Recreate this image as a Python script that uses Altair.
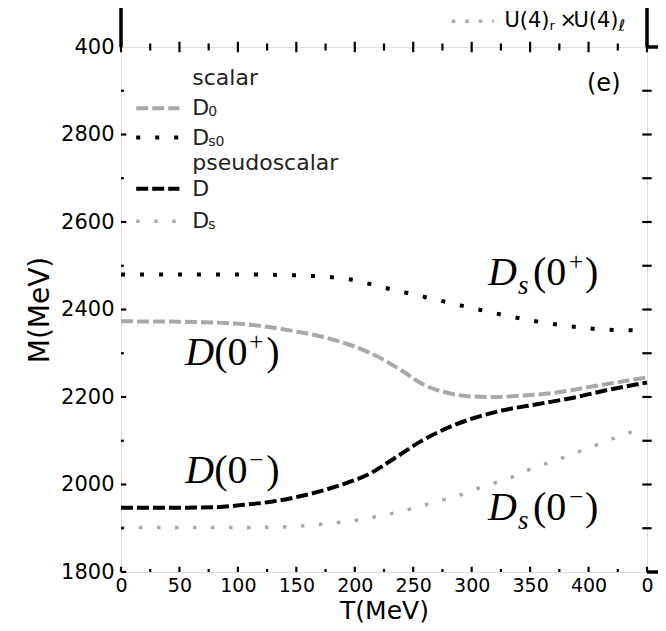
import altair as alt
import pandas as pd

# ---------------- data ----------------
T_Ds0 = [0, 50, 100, 150, 195, 225, 256, 288, 319, 351, 383, 415, 450]
M_Ds0 = [2480, 2480, 2480, 2478, 2469, 2450, 2431, 2411, 2392, 2375, 2362, 2354, 2352]

T_D0 = [0, 50, 97, 121, 149, 173, 195, 219, 241, 259, 280, 302, 320, 342, 372, 403, 450]
M_D0 = [2373, 2372, 2368, 2362, 2350, 2337, 2320, 2293, 2259, 2228, 2209, 2201, 2200, 2203, 2210, 2224, 2245]

T_D = [0, 50, 81, 103, 127, 158, 188, 213, 234, 256, 274, 302, 326, 357, 388, 418, 450]
M_D = [1947, 1947, 1948, 1953, 1960, 1976, 1999, 2025, 2060, 2098, 2123, 2152, 2169, 2184, 2199, 2217, 2233]

T_Ds = [0, 60, 121, 147, 162, 178, 195, 210, 225, 242, 257, 273, 288, 303, 319, 334, 348, 363, 379, 394, 409, 424, 440]
M_Ds = [1902, 1902, 1902, 1904, 1907, 1911, 1916, 1922, 1930, 1940, 1951, 1963, 1974, 1989, 2003, 2016, 2033, 2047, 2062, 2077, 2093, 2108, 2123]

x_major = [0, 50, 100, 150, 200, 250, 300, 350, 400, 450]
x_minor = [25, 75, 125, 175, 225, 275, 325, 375, 425]
y_major = [1800, 2000, 2200, 2400, 2600, 2800, 3000]
y_minor = [1900, 2100, 2300, 2500, 2700, 2900]

# legend entries
leg_headers = ["scalar", "pseudoscalar"]
leg_header_M = [2929, 2734]
leg_names = ["D0", "Ds0", "D", "Ds"]
leg_main = ["D", "D", "D", "D"]
leg_sub = ["0", "s0", "", "s"]
leg_M = [2860, 2793, 2676, 2602]

# curve annotations
ann_D_sign = ["+", "\u2212"]
ann_D_T = [55, 55]
ann_D_M = [2274, 2003]
ann_Ds_sign = ["+", "\u2212"]
ann_Ds_T = [314, 314]
ann_Ds_M = [2457, 1918]

# ---------------- scales / axes ----------------
W, H = 526, 525
XS = alt.Scale(domain=[0, 450], nice=False, zero=False)
YS = alt.Scale(domain=[1800, 3000], nice=False, zero=False)
AXF = "DejaVu Sans"
xaxis = alt.Axis(values=x_major, format="d",
                 labelExpr="datum.value == 450 ? '0' : datum.label",
                 title="T(MeV)", ticks=False, domain=False, grid=False,
                 labelFont=AXF, labelFontSize=19, labelColor="black", labelPadding=4,
                 labelFlush=False, labelOverlap=False,
                 titleFont=AXF, titleFontSize=25, titleFontWeight="normal", titleColor="black",
                 titleX=W / 2, titleY=46, titleBaseline="alphabetic", titleAlign="center")
yaxis = alt.Axis(values=y_major, format="d",
                 labelExpr="datum.value == 3000 ? '400' : datum.label",
                 title="M(MeV)", ticks=False, domain=False, grid=False,
                 labelFont=AXF, labelFontSize=21, labelColor="black", labelPadding=7,
                 labelFlush=False, labelOverlap=False,
                 titleFont=AXF, titleFontSize=28, titleFontWeight="normal", titleColor="black",
                 titleX=-81, titleY=H / 2, titleAngle=270, titleBaseline="middle", titleAlign="center")


def X(f):
    return alt.X(f, type="quantitative", scale=XS, axis=xaxis)


def Y(f):
    return alt.Y(f, type="quantitative", scale=YS, axis=yaxis)


GRAY = "#a8a8a8"
layers = []

# ---------------- curves ----------------
curves = [
    (T_D0, M_D0, GRAY, [12, 4], 4, "butt"),
    (T_Ds0, M_Ds0, "black", [4, 15], 4, "butt"),
    (T_D, M_D, "black", [12, 4], 4, "butt"),
    (T_Ds, M_Ds, GRAY, [3.5, 14.5], 3.5, "butt"),
]
for t, m, col, dash, sw, cap in curves:
    df = pd.DataFrame({"T": t, "M": m})
    layers.append(alt.Chart(df).mark_line(color=col, strokeDash=dash, strokeWidth=sw,
                                          strokeCap=cap, interpolate="monotone")
                  .encode(x=X("T"), y=Y("M")))

# ---------------- legend ----------------
leg_styles = [(GRAY, [12, 4], 4), ("black", [4, 15], 4), ("black", [12, 4], 4), (GRAY, [3.5, 14.5], 3.5)]
for name, M, (col, dash, sw) in zip(leg_names, leg_M, leg_styles):
    df = pd.DataFrame({"T": [13, 50], "M": [M, M]})
    layers.append(alt.Chart(df).mark_line(color=col, strokeDash=dash, strokeWidth=sw, strokeCap="butt")
                  .encode(x=X("T"), y=Y("M")))

hdr = pd.DataFrame({"T": [61] * len(leg_headers), "M": leg_header_M, "txt": leg_headers})
layers.append(alt.Chart(hdr).mark_text(font=AXF, fontSize=22, color="#222", align="left", baseline="middle")
              .encode(x=X("T"), y=Y("M"), text="txt:N"))
leg = pd.DataFrame({"T": [61] * 4, "M": leg_M, "main": leg_main, "sub": leg_sub})
layers.append(alt.Chart(leg).mark_text(font=AXF, fontSize=22, color="#222", align="left", baseline="middle")
              .encode(x=X("T"), y=Y("M"), text="main:N"))
layers.append(alt.Chart(leg).mark_text(font=AXF, fontSize=14, color="#222", align="left", baseline="middle",
                                       dx=16, dy=4)
              .encode(x=X("T"), y=Y("M"), text="sub:N"))

# ---------------- panel label ----------------
pl = pd.DataFrame({"T": [413], "M": [2915], "txt": ["(e)"]})
layers.append(alt.Chart(pl).mark_text(font=AXF, fontSize=24, color="black", align="center", baseline="middle")
              .encode(x=X("T"), y=Y("M"), text="txt:N"))

# ---------------- curve annotations ----------------
SER = "Liberation Serif"
dD = pd.DataFrame({"T": ann_D_T, "M": ann_D_M, "sign": ann_D_sign,
                   "D": ["D", "D"], "op": ["(0", "(0"], "cp": [")", ")"]})
dS = pd.DataFrame({"T": ann_Ds_T, "M": ann_Ds_M, "sign": ann_Ds_sign,
                   "D": ["D", "D"], "s": ["s", "s"], "op": ["(0", "(0"], "cp": [")", ")"]})


def piece(df, field, dx, dy, size, style):
    return (alt.Chart(df).mark_text(font=SER, fontSize=size, fontStyle=style, color="black",
                                    align="left", baseline="alphabetic", dx=dx, dy=dy)
            .encode(x=X("T"), y=Y("M"), text=f"{field}:N"))


layers += [
    piece(dD, "D", 0, 0, 40, "italic"),
    piece(dD, "op", 29, 0, 40, "normal"),
    piece(dD, "sign", 64, -15, 25, "normal"),
    piece(dD, "cp", 81, 0, 40, "normal"),
    piece(dS, "D", 0, 0, 40, "italic"),
    piece(dS, "s", 30, 9, 27, "italic"),
    piece(dS, "op", 45, 0, 40, "normal"),
    piece(dS, "sign", 81, -15, 25, "normal"),
    piece(dS, "cp", 97, 0, 40, "normal"),
]

# ---------------- top-right legend of the upper panel ----------------
uleg = pd.DataFrame({"T": [283, 319], "M": [3059, 3059]})
layers.append(alt.Chart(uleg).mark_line(color=GRAY, strokeDash=[3.5, 10], strokeWidth=3.5, strokeCap="butt")
              .encode(x=X("T"), y=Y("M")))
ut = pd.DataFrame({"T": [328], "M": [3059], "a": ["U(4)"], "r": ["r"], "x": ["\u00d7"], "l": ["\u2113"]})
for field, dx, dy, size, style in [("a", 0, 0, 21, "normal"), ("r", 45, 5, 13, "normal"),
                                   ("x", 55, 0, 21, "normal"), ("a", 69, 0, 21, "normal"),
                                   ("l", 114, 5, 16, "italic")]:
    layers.append(alt.Chart(ut).mark_text(font=AXF, fontSize=size, fontStyle=style, color="black",
                                          align="left", baseline="middle", dx=dx, dy=dy)
                  .encode(x=X("T"), y=Y("M"), text=f"{field}:N"))

# ---------------- ticks & frame extensions ----------------
def rules(df, sw=2.5, color="black"):
    return (alt.Chart(df).mark_rule(color=color, strokeWidth=sw)
            .encode(x=X("x"), x2="x2:Q", y=Y("y"), y2="y2:Q"))


tick_rows = []
for v in x_major:
    tick_rows.append((v, v, 1800, 1812))            # bottom, inward
    tick_rows.append((v, v, 2988, 3012))            # top, both sides
for v in x_minor:
    tick_rows.append((v, v, 1800, 1807))
    tick_rows.append((v, v, 2992, 3008))
for v in y_major[:-1]:
    tick_rows.append((0, 4.5, v, v))                # left, inward
for v in y_minor:
    tick_rows.append((0, 2.5, v, v))
for v in y_major[1:-1] + y_minor:
    tick_rows.append((446, 454, v, v))              # right, both sides
ticks = pd.DataFrame(tick_rows, columns=["x", "x2", "y", "y2"])
layers.append(rules(ticks, sw=2.2))

ext = pd.DataFrame([(0, 0, 3000, 3095), (450, 450, 3000, 3095),
                    (450, 462, 3000, 3000), (450, 462, 1800, 1800)],
                   columns=["x", "x2", "y", "y2"])
layers.append(rules(ext, sw=3.5))

chart = (alt.layer(*layers)
         .properties(width=W, height=H,
                     autosize=alt.AutoSizeParams(type="none"),
                     padding={"left": 113, "top": 39, "right": 11, "bottom": 51})
         .configure_view(stroke="black", strokeWidth=3.5)
         .configure(background="white"))

chart.save("out.html", embed_options={"renderer": "svg", "actions": False})
